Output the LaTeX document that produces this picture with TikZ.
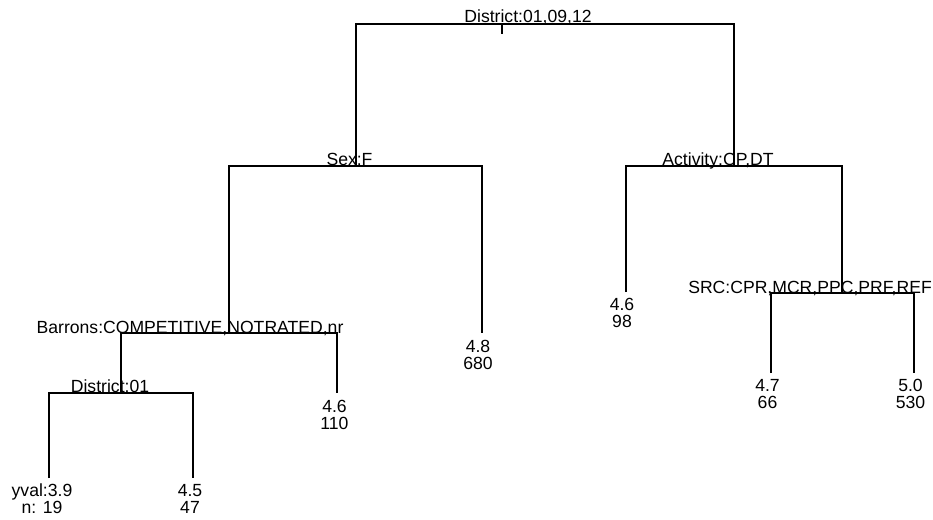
\documentclass[tikz,border=0pt]{standalone}
\usepackage{fontspec}
\setmainfont{Liberation Sans}
\begin{document}
\begin{tikzpicture}[x=1pt,y=-1pt,
  branch/.style={line width=1.1pt},
  lab/.style={anchor=base,inner sep=0pt,font=\fontsize{17.6}{17}\selectfont},
  leaf/.style={anchor=north,inner sep=0pt,align=center,font=\fontsize{17.6}{17}\selectfont}]
\useasboundingbox (0,0) rectangle (933,519);
% tree points
\coordinate (root) at (545,24);
\coordinate (ticktop) at (502,24);
\coordinate (tickend) at (502,34);
\coordinate (sex) at (356,166);
\coordinate (act) at (734,166);
\coordinate (barrons) at (229,333);
\coordinate (leafA) at (482,333);
\coordinate (dist) at (121,393);
\coordinate (leafB) at (337,393);
\coordinate (leafC) at (49,478);
\coordinate (leafD) at (193,478);
\coordinate (leafE) at (626,292);
\coordinate (src) at (842,293);
\coordinate (leafF) at (771,373);
\coordinate (leafG) at (914,373);
% branches
\draw[branch] (sex) |- (root) -| (act);
\draw[branch] (ticktop) -- (tickend);
\draw[branch] (barrons) |- (sex) -| (leafA);
\draw[branch] (dist) |- (barrons) -| (leafB);
\draw[branch] (leafC) |- (dist) -| (leafD);
\draw[branch] (leafE) |- (act) -| (src);
\draw[branch] (leafF) |- (src) -| (leafG);
% split labels
\node[lab] (trootlab) at (528,23) {District:01,09,12};
\node[lab] (tsexlab) at (349.5,165) {Sex:F};
\node[lab] (tactlab) at (718,165) {Activity:CP,DT};
\node[lab] (tbarlab) at (190,333) {Barrons:COMPETITIVE,NOTRATED,nr};
\node[lab] (tdistlab) at (110,392) {District:01};
\node[lab] (tsrclab) at (810,293) {SRC:CPR,MCR,PPC,PRF,REF};
% leaf labels
\node[leaf] (tA) at (478,340) {4.8\\680};
\node[leaf] (tB) at (334.5,400) {4.6\\110};
\node[leaf] (tC) at (42,484) {yval:3.9\\n: 19};
\node[leaf] (tD) at (190,484) {4.5\\47};
\node[leaf] (tE) at (622,298) {4.6\\98};
\node[leaf] (tF) at (767.5,379) {4.7\\66};
\node[leaf] (tG) at (910.5,379) {5.0\\530};
\end{tikzpicture}
\end{document}
